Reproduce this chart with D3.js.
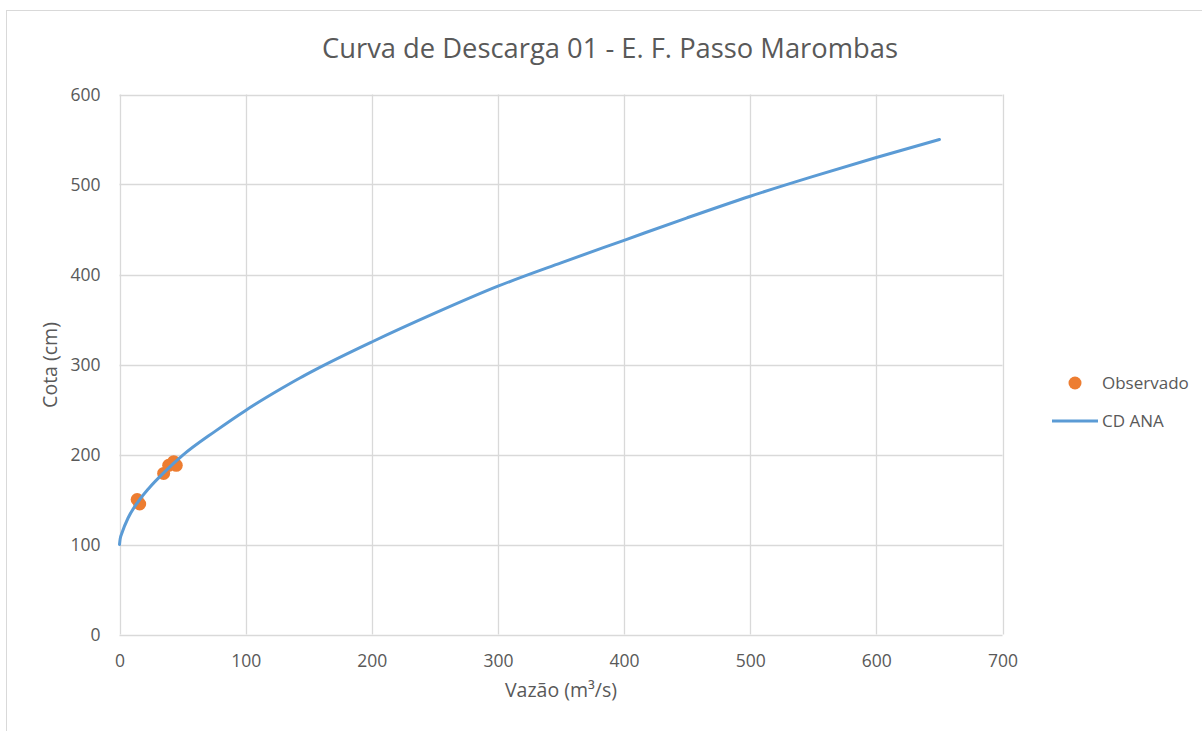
<!DOCTYPE html>
<html>
<head>
<meta charset="utf-8">
<script src="https://cdn.jsdelivr.net/npm/d3@7"></script>
<style>
  html, body { margin: 0; padding: 0; background: #ffffff; }
  svg { display: block; }
  text { font-family: "Open Sans", "Noto Sans", sans-serif; fill: #595959; }
</style>
</head>
<body>
<svg id="chart" width="1202" height="731"></svg>
<script>
// ---- data ----
const chartTitle = "Curva de Descarga 01 - E. F. Passo Marombas";
const xTitle = "Vazão (m³/s)";
const yTitle = "Cota (cm)";
const seriesNames = ["Observado", "CD ANA"];

const xTicks = [0, 100, 200, 300, 400, 500, 600, 700];
const yTicks = [0, 100, 200, 300, 400, 500, 600];

// CD ANA rating curve: discharge (m³/s) and stage (cm)
const cdQ = [0, 0.5, 2, 7, 15, 23, 36, 50, 76, 100, 128, 143, 155, 200, 250, 300, 350, 400, 450, 500, 550, 600, 650];
const cdH = [100, 106, 113, 130, 148, 162, 181, 199, 226, 249, 273, 285, 294, 325, 357, 387, 413, 438, 463, 487, 509, 530, 550];

// Observed measurements
const obsQ = [14, 16, 35, 39, 43, 45];
const obsH = [150, 145, 179, 188, 192, 188];

// ---- layout ----
const W = 1202, H = 731;
const plot = { left: 119.5, right: 1002.5, top: 94.5, bottom: 634.5 };
const colors = { line: "#5B9BD5", marker: "#ED7D31", grid: "#D9D9D9", text: "#595959" };

const svg = d3.select("#chart");

// outer chart border
svg.append("rect")
  .attr("x", 6.5).attr("y", 10.5)
  .attr("width", W).attr("height", H)
  .attr("fill", "#fff").attr("stroke", colors.grid).attr("stroke-width", 1);

const x = d3.scaleLinear().domain([0, 700]).range([plot.left, plot.right]);
const y = d3.scaleLinear().domain([0, 600]).range([plot.bottom, plot.top]);

// gridlines
const grid = svg.append("g");
grid.selectAll("line.v").data(xTicks).join("line")
  .attr("x1", d => Math.round(x(d)) + 0.5).attr("x2", d => Math.round(x(d)) + 0.5)
  .attr("y1", plot.top).attr("y2", plot.bottom)
  .attr("stroke", colors.grid).attr("stroke-width", 1.3);
grid.selectAll("line.h").data(yTicks).join("line")
  .attr("y1", d => Math.round(y(d)) + 0.5).attr("y2", d => Math.round(y(d)) + 0.5)
  .attr("x1", plot.left).attr("x2", plot.right)
  .attr("stroke", colors.grid).attr("stroke-width", 1.3);

// axes labels via d3 axes (no domain / tick lines)
const xAxis = svg.append("g")
  .attr("transform", `translate(0,${plot.bottom})`)
  .call(d3.axisBottom(x).tickValues(xTicks).tickSize(0).tickPadding(18).tickFormat(d3.format("d")));
const yAxis = svg.append("g")
  .attr("transform", `translate(${plot.left},0)`)
  .call(d3.axisLeft(y).tickValues(yTicks).tickSize(0).tickPadding(19).tickFormat(d3.format("d")));
[xAxis, yAxis].forEach(a => {
  a.select(".domain").remove();
  a.selectAll("text")
    .style("font-family", '"Open Sans", sans-serif')
    .style("font-size", "17.5px")
    .attr("fill", colors.text);
});
xAxis.selectAll("text").attr("dy", "0.32em").attr("y", 27);

// observed points (drawn beneath the line)
const obs = obsQ.map((q, i) => ({ q, h: obsH[i] }));
svg.append("g").selectAll("circle").data(obs).join("circle")
  .attr("cx", d => x(d.q)).attr("cy", d => y(d.h)).attr("r", 6.5)
  .attr("fill", colors.marker);

// rating curve
const cd = cdQ.map((q, i) => ({ q, h: cdH[i] }));
svg.append("path").datum(cd)
  .attr("fill", "none").attr("stroke", colors.line).attr("stroke-width", 3)
  .attr("stroke-linejoin", "round").attr("stroke-linecap", "round")
  .attr("d", d3.line().x(d => x(d.q)).y(d => y(d.h)).curve(d3.curveMonotoneX));

// title
const t = svg.append("text")
  .attr("x", 610).attr("y", 58).attr("text-anchor", "middle")
  .style("font-size", "28px").text(chartTitle);
const tw = t.node().getComputedTextLength();
t.style("font-size", (28 * 576 / tw).toFixed(2) + "px");

// axis titles
svg.append("text")
  .attr("x", 561).attr("y", 697).attr("text-anchor", "middle")
  .style("font-size", "19.5px").text(xTitle);
svg.append("text")
  .attr("transform", `translate(57,365) rotate(-90)`)
  .attr("text-anchor", "middle")
  .style("font-size", "19.5px").text(yTitle);

// legend
const leg = svg.append("g");
leg.append("circle").attr("cx", 1075).attr("cy", 383).attr("r", 6.5).attr("fill", colors.marker);
leg.append("text").attr("x", 1102).attr("y", 383).attr("dy", "0.35em")
  .style("font-size", "17px").text(seriesNames[0]);
leg.append("line").attr("x1", 1052).attr("x2", 1098).attr("y1", 421).attr("y2", 421)
  .attr("stroke", colors.line).attr("stroke-width", 3);
leg.append("text").attr("x", 1102).attr("y", 421).attr("dy", "0.35em")
  .style("font-size", "17px").text(seriesNames[1]);
</script>
</body>
</html>
